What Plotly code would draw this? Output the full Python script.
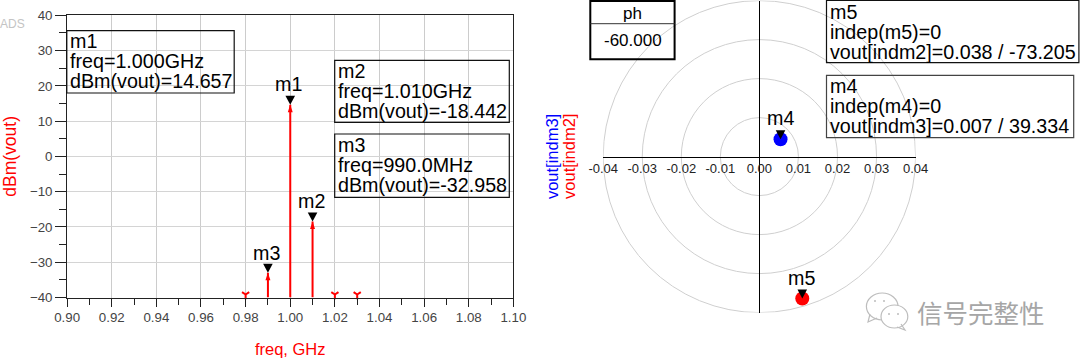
import numpy as np
import plotly.graph_objects as go

# ---- data ----
freq_on = [0.99, 1.00, 1.01]
dbm_on = [-32.958, 14.657, -18.442]
freq_floor = [0.98, 1.02, 1.03]
dbm_floor = [-40, -40, -40]
marker_names = ["m1", "m2", "m3"]
marker_freq = [1.00, 1.01, 0.99]
marker_dbm = [14.657, -18.442, -32.958]
polar_names = ["m4", "m5"]
polar_mag = [0.007, 0.038]
polar_phase = [39.334, -73.205]
ring_radii = [0.01, 0.02, 0.03, 0.04]
x_ticks = [0.90, 0.92, 0.94, 0.96, 0.98, 1.00, 1.02, 1.04, 1.06, 1.08, 1.10]
y_ticks = [-40, -30, -20, -10, 0, 10, 20, 30, 40]
polar_ticks = [-0.04, -0.03, -0.02, -0.01, 0.00, 0.01, 0.02, 0.03, 0.04]
box_texts = {
    "m1": ["m1", "freq=1.000GHz", "dBm(vout)=14.657"],
    "m2": ["m2", "freq=1.010GHz", "dBm(vout)=-18.442"],
    "m3": ["m3", "freq=990.0MHz", "dBm(vout)=-32.958"],
    "m5": ["m5", "indep(m5)=0", "vout[indm2]=0.038 / -73.205"],
    "m4": ["m4", "indep(m4)=0", "vout[indm3]=0.007 / 39.334"],
}

W, H = 1080, 359
px = lambda v: v / W
py = lambda v: 1 - v / H
FONT = "Liberation Sans"
RED = "#ff0000"
BLUE = "#0000ff"

polar_x = [m * np.cos(np.radians(p)) for m, p in zip(polar_mag, polar_phase)]
polar_y = [m * np.sin(np.radians(p)) for m, p in zip(polar_mag, polar_phase)]

fig = go.Figure()

# stems
stem_x, stem_y = [], []
for f, d in zip(freq_on, dbm_on):
    stem_x += [f, f, None]
    stem_y += [-40, d, None]
fig.add_trace(go.Scatter(x=stem_x, y=stem_y, mode="lines", line=dict(color=RED, width=2),
                         xaxis="x", yaxis="y", cliponaxis=False, showlegend=False))
fig.add_trace(go.Scatter(x=freq_on, y=dbm_on, mode="markers",
                         marker=dict(symbol="arrow", size=8, color=RED, line=dict(width=0)),
                         xaxis="x", yaxis="y", showlegend=False))
fig.add_trace(go.Scatter(x=freq_floor, y=dbm_floor, mode="markers", cliponaxis=False,
                         marker=dict(symbol="y-up", size=6, angle=180, standoff=3,
                                     line=dict(color=RED, width=2), color=RED),
                         xaxis="x", yaxis="y", showlegend=False))
# polar dots
fig.add_trace(go.Scatter(x=[polar_x[0]], y=[polar_y[0]], mode="markers",
                         marker=dict(size=14, color=BLUE), xaxis="x2", yaxis="y2",
                         name="vout[indm3]", showlegend=False))
fig.add_trace(go.Scatter(x=[polar_x[1]], y=[polar_y[1]], mode="markers",
                         marker=dict(size=14, color=RED), xaxis="x2", yaxis="y2",
                         name="vout[indm2]", showlegend=False))

shapes = []
TRI = "M-4.8,9 L4.8,9 L0,0 Z"
for f, d in zip(marker_freq, marker_dbm):
    shapes.append(dict(type="path", xref="x", yref="y", xsizemode="pixel", ysizemode="pixel",
                       xanchor=f, yanchor=d, path=TRI, fillcolor="black", line=dict(width=0)))
for xv, yv in zip(polar_x, polar_y):
    shapes.append(dict(type="path", xref="x2", yref="y2", xsizemode="pixel", ysizemode="pixel",
                       xanchor=xv, yanchor=yv, path=TRI, fillcolor="black", line=dict(width=0)))
for r in ring_radii:
    shapes.append(dict(type="circle", xref="x2", yref="y2", x0=-r, x1=r, y0=-r, y1=r,
                       line=dict(color="#cfcfcf", width=1), layer="below"))

def box(x0, y0, x1, y1, color="#111111", width=1.2):
    shapes.append(dict(type="rect", xref="paper", yref="paper", x0=px(x0), x1=px(x1),
                       y0=py(y1), y1=py(y0), line=dict(color=color, width=width)))

box(66.8, 30.7, 234.2, 93)
box(334.7, 60.3, 509.3, 122.3)
box(334.7, 134, 509.3, 197.3)
box(826.5, 0.5, 1078.9, 62.7)
box(826.5, 75.3, 1073.7, 137.7, color="#444444")
box(590.3, 1, 674.6, 59.3, color="black", width=2)
shapes.append(dict(type="line", xref="paper", yref="paper", x0=px(590.3), x1=px(674.6),
                   y0=py(23.7), y1=py(23.7), line=dict(color="#333333", width=1)))

# WeChat style watermark icon
WM = "#bdbdbd"
def wm_path(d, fill=None):
    shapes.append(dict(type="path", xref="paper", yref="paper",
                       path=d, fillcolor=fill, line=dict(color=WM, width=1.2)))
shapes.append(dict(type="circle", xref="paper", yref="paper", x0=px(866.4), x1=px(898),
                   y0=py(320), y1=py(293), line=dict(color=WM, width=1.2)))
def pts(*xy):
    return "M" + " L".join(f"{px(x):.5f},{py(y):.5f}" for x, y in xy)
wm_path(pts((870, 314), (868, 322), (877, 318)))
shapes.append(dict(type="circle", xref="paper", yref="paper", x0=px(881), x1=px(907.8),
                   y0=py(328), y1=py(305), fillcolor="white", line=dict(color=WM, width=1.2)))
wm_path(pts((901, 324), (905, 330), (897, 327)))
for ex, ey in [(875, 301), (884, 301), (889, 314), (898, 314)]:
    shapes.append(dict(type="circle", xref="paper", yref="paper", x0=px(ex - 1), x1=px(ex + 1),
                       y0=py(ey + 1), y1=py(ey - 1), fillcolor=WM, line=dict(width=0)))

ann = []
def text(x, y, s, size=19.7, color="black", anchor="left", angle=0, family=FONT):
    ann.append(dict(x=px(x), y=py(y), xref="paper", yref="paper", text=s, showarrow=False,
                    xanchor=anchor, yanchor="middle", textangle=angle,
                    font=dict(family=family, size=size, color=color)))

rows = {"m1": (68.2, [41, 61, 81]), "m2": (336.4, [71, 91, 111]), "m3": (336.4, [145, 165, 185]),
        "m5": (827.9, [12, 32, 52]), "m4": (827.9, [86, 106, 126])}
for key, (x, ys) in rows.items():
    for line, y in zip(box_texts[key], ys):
        text(x, y, line)

for name, x, y in [("m1", 288.6, 84), ("m2", 311.6, 201), ("m3", 266.9, 252.7),
                   ("m4", 780.4, 117.7), ("m5", 801.4, 277.7)]:
    text(x, y, name, anchor="center")

text(632.5, 13.3, "ph", size=17, anchor="center")
text(632.5, 40.7, "-60.000", size=17, anchor="center")
text(12, 24, "ADS", size=12, color="#c4c4c4", anchor="center")
text(551.4, 156.7, "vout[indm3]", size=16.5, color=BLUE, anchor="center", angle=-90)
text(568.2, 156.7, "vout[indm2]", size=16.5, color=RED, anchor="center", angle=-90)
text(981, 311.5, "信号完整性", size=25.5, color="#a6a6a6", anchor="center", family="Noto Sans CJK SC")

fig.update_layout(
    width=W, height=H, margin=dict(l=0, r=0, t=0, b=0, autoexpand=False), autosize=False,
    paper_bgcolor="white", plot_bgcolor="white", showlegend=False,
    shapes=shapes, annotations=ann,
    font=dict(family=FONT, size=13, color="#333333"),
    xaxis=dict(domain=[px(67.1), px(513.4)], range=[0.90, 1.10], tickmode="array", tickvals=x_ticks,
               ticktext=[f"{v:.2f}" for v in x_ticks], showgrid=True, gridcolor="#cccccc", gridwidth=1,
               zeroline=False, showline=True, linecolor="#222222", linewidth=1, mirror=True,
               ticks="outside", ticklen=8, tickcolor="#222222", automargin=False,
               minor=dict(dtick=0.01, ticks="outside", ticklen=6, tickcolor="#222222", showgrid=False),
               tickfont=dict(size=13.3, color="#444444"), anchor="y",
               title=dict(text="freq, GHz", font=dict(size=16.5, color=RED), standoff=18)),
    yaxis=dict(domain=[py(297.5), py(15.3)], range=[-40, 40], tickmode="array", tickvals=y_ticks,
               showgrid=True, gridcolor="#d4d4d4", gridwidth=1, zeroline=False,
               showline=True, linecolor="#222222", linewidth=1, mirror=True,
               ticks="outside", ticklen=11, tickcolor="#222222", automargin=False,
               minor=dict(dtick=5, ticks="outside", ticklen=7, tickcolor="#222222", showgrid=False),
               tickfont=dict(size=13.3, color="#444444"), anchor="x",
               title=dict(text="dBm(vout)", font=dict(size=17.5, color=RED), standoff=10)),
    xaxis2=dict(domain=[px(603.2), px(915.6)], range=[-0.04, 0.04], tickmode="array", tickvals=polar_ticks,
                ticktext=[f"{v:.2f}" for v in polar_ticks], showgrid=False, zeroline=False,
                showline=True, linecolor="black", linewidth=1.3, ticks="", anchor="free", automargin=False,
                position=py(156.6), tickfont=dict(size=13, color="#222222")),
    yaxis2=dict(domain=[py(312.6), py(0.6)], range=[-0.04, 0.04], showgrid=False, zeroline=False,
                showline=True, linecolor="black", linewidth=1.3, ticks="", showticklabels=False, automargin=False,
                anchor="free", position=px(759.4)),
)

fig.write_html("out.html", config=dict(displayModeBar=False),
               post_script="document.body.style.margin='0';document.documentElement.style.overflow='hidden';")
